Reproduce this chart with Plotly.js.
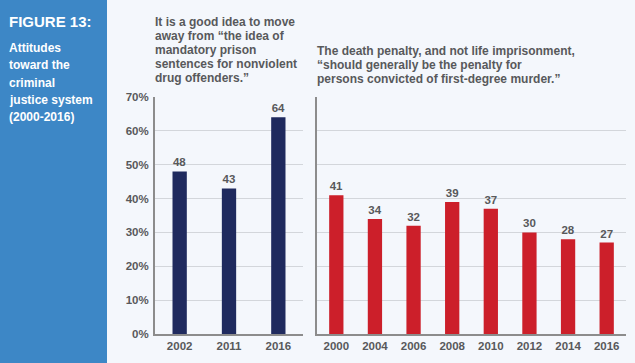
<!DOCTYPE html>
<html><head><meta charset="utf-8">
<script src="https://cdn.plot.ly/plotly-3.0.1.min.js"></script>
<style>html,body{margin:0;padding:0;background:#f4f7fc;}</style>
</head><body><div id="chart" style="width:635px;height:363px;"></div>
<script>
// Data
const leftYears = ['2002', '2011', '2016'];
const leftValues = [48, 43, 64];
const rightYears = ['2000', '2004', '2006', '2008', '2010', '2012', '2014', '2016'];
const rightValues = [41, 34, 32, 39, 37, 30, 28, 27];
const yTickVals = [0, 10, 20, 30, 40, 50, 60, 70];
const yTickText = ['0%', '10%', '20%', '30%', '40%', '50%', '60%', '70%'];
const figureTitle = 'FIGURE 13:';
const figureSubtitle = ['Attitudes', 'toward the', 'criminal', 'justice system', '(2000-2016)'];
const leftTitle = ['It is a good idea to move', 'away from \u201cthe idea of', 'mandatory prison', 'sentences for nonviolent', 'drug offenders.\u201d'];
const rightTitle = ['The death penalty, and not life imprisonment,', '\u201cshould generally be the penalty for', 'persons convicted of first-degree murder.\u201d'];

const W = 635, H = 363;
const px = x => x / W;
const py = y => 1 - y / H;
const FONT = '"Liberation Sans", Arial, sans-serif';
const GRAY = '#58595b';

const traces = [
  {type: 'bar', x: leftYears, y: leftValues, xaxis: 'x', yaxis: 'y', width: 0.29,
   marker: {color: '#1f2a5e'}, text: leftValues.map(String), textposition: 'outside',
   textfont: {family: FONT, size: 11.5, color: GRAY, weight: 'bold'}, cliponaxis: false, hoverinfo: 'none'},
  {type: 'bar', x: rightYears, y: rightValues, xaxis: 'x2', yaxis: 'y2', width: 0.37,
   marker: {color: '#cc1f2a'}, text: rightValues.map(String), textposition: 'outside',
   textfont: {family: FONT, size: 11.5, color: GRAY, weight: 'bold'}, cliponaxis: false, hoverinfo: 'none'}
];

const annotations = [];
annotations.push({text: figureTitle, xref: 'paper', yref: 'paper', x: px(7), y: py(21),
  xanchor: 'left', yanchor: 'middle', showarrow: false,
  font: {family: FONT, size: 15, color: '#ffffff', weight: 'bold'}});
figureSubtitle.forEach((t, i) => annotations.push({text: t, xref: 'paper', yref: 'paper',
  x: px(7), y: py(48 + i * 17.3), xanchor: 'left', yanchor: 'middle', showarrow: false,
  font: {family: FONT, size: 12, color: '#ffffff', weight: 'bold'}}));
leftTitle.forEach((t, i) => annotations.push({text: t, xref: 'paper', yref: 'paper',
  x: px(153), y: py(22 + i * 14.1), xanchor: 'left', yanchor: 'middle', showarrow: false,
  font: {family: FONT, size: 12, color: GRAY, weight: 'bold'}}));
rightTitle.forEach((t, i) => annotations.push({text: t, xref: 'paper', yref: 'paper',
  x: px(315), y: py(51 + i * 14.1), xanchor: 'left', yanchor: 'middle', showarrow: false,
  font: {family: FONT, size: 12, color: GRAY, weight: 'bold'}}));

const yBase = {range: [0, 70], tickvals: yTickVals, ticktext: yTickText, showgrid: true,
  gridcolor: '#d3d6db', gridwidth: 1, zeroline: false, showline: true, linecolor: '#8c8c8c',
  linewidth: 2, ticks: '', fixedrange: true,
  domain: [py(334), py(97)], tickfont: {family: FONT, size: 11.5, color: GRAY, weight: 'bold'}};
const xBase = {showline: true, linecolor: '#8c8c8c', linewidth: 2, ticks: '', showgrid: false,
  zeroline: false, fixedrange: true, type: 'category',
  tickfont: {family: FONT, size: 11.5, color: GRAY, weight: 'bold'}};

const layout = {
  width: W, height: H, margin: {l: 0, r: 0, t: 0, b: 0},
  paper_bgcolor: '#f4f7fc', plot_bgcolor: 'rgba(0,0,0,0)', showlegend: false,
  font: {family: FONT, color: GRAY},
  xaxis: Object.assign({}, xBase, {domain: [px(155), px(303)], anchor: 'y'}),
  yaxis: Object.assign({}, yBase, {anchor: 'x', ticklabelstandoff: 2}),
  xaxis2: Object.assign({}, xBase, {domain: [px(317), px(626)], anchor: 'y2'}),
  yaxis2: Object.assign({}, yBase, {anchor: 'x2', showticklabels: false}),
  shapes: [{type: 'rect', xref: 'paper', yref: 'paper', x0: 0, x1: px(107), y0: 0, y1: 1,
    fillcolor: '#3d87c6', line: {width: 0}, layer: 'below'}],
  annotations: annotations
};

Plotly.newPlot('chart', traces, layout, {staticPlot: true, displayModeBar: false});
</script></body></html>
